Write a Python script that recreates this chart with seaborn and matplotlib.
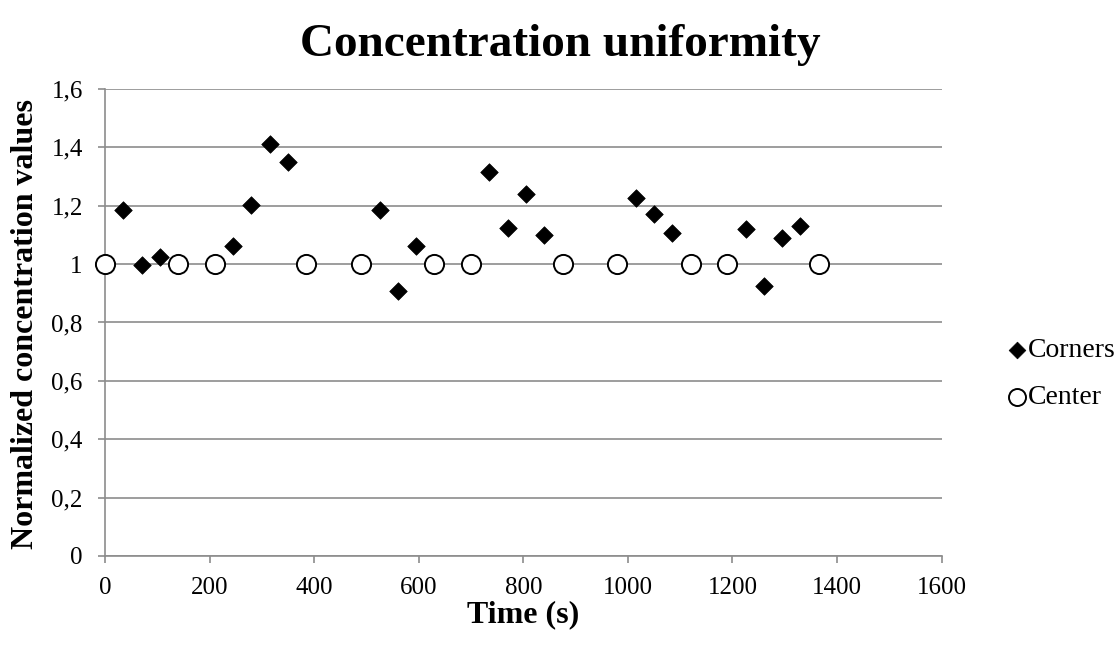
import numpy as np
import pandas as pd
import matplotlib
matplotlib.use("Agg")
import matplotlib.pyplot as plt
from matplotlib.ticker import FuncFormatter, MultipleLocator
import seaborn as sns

corners_time = [35, 70, 105, 245, 280, 315, 350, 525, 560, 595, 735, 770, 805, 840,
                1015, 1050, 1085, 1225, 1260, 1295, 1330]
corners_value = [1.184, 0.997, 1.025, 1.062, 1.202, 1.411, 1.350, 1.187, 0.909, 1.062,
                 1.315, 1.124, 1.240, 1.098, 1.225, 1.171, 1.108, 1.119, 0.926, 1.091, 1.130]
center_time = [0, 140, 210, 385, 490, 630, 700, 875, 980, 1120, 1190, 1365]
center_value = [1.0] * len(center_time)

sns.set_theme(style="white")
plt.rcParams['font.family'] = ['Liberation Serif', 'DejaVu Serif']
plt.rcParams['text.color'] = 'black'
plt.rcParams['axes.labelcolor'] = 'black'

fig = plt.figure(figsize=(11.2, 6.48), dpi=100)
ax = fig.add_axes([0.09375, 0.142, 0.7470, 0.7207])

df_corners = pd.DataFrame({"Time": corners_time, "Value": corners_value})
df_center = pd.DataFrame({"Time": center_time, "Value": center_value})

sns.scatterplot(data=df_corners, x="Time", y="Value", ax=ax, marker="D", s=80,
                color="black", edgecolor="black", linewidth=0.5, label="Corners", zorder=3)
sns.scatterplot(data=df_center, x="Time", y="Value", ax=ax, marker="o", s=190,
                facecolor="white", edgecolor="black", linewidth=1.4, label="Center", zorder=3,
                clip_on=False)

ax.set_xlim(0, 1600)
ax.set_ylim(0, 1.6)
ax.xaxis.set_major_locator(MultipleLocator(200))
ax.yaxis.set_major_locator(MultipleLocator(0.2))

def yfmt(v, pos):
    s = f"{v:.1f}".rstrip("0").rstrip(".")
    return s.replace(".", ",")
ax.yaxis.set_major_formatter(FuncFormatter(yfmt))

ax.grid(axis="y", color="#8c8c8c", linewidth=1.2)
ax.grid(axis="x", visible=False)
ax.set_axisbelow(True)
for side in ["top", "right"]:
    ax.spines[side].set_visible(False)
for side in ["left", "bottom"]:
    ax.spines[side].set_color("#8c8c8c")
    ax.spines[side].set_linewidth(1.2)

ax.tick_params(axis="both", which="major", labelsize=18, direction="out",
               length=5, width=1.2, color="#8c8c8c", labelcolor="black",
               bottom=True, left=True)
ax.tick_params(axis="y", pad=11)
ax.tick_params(axis="x", pad=10)

ax.set_xlabel("Time (s)", fontsize=23, fontweight="bold")
ax.set_ylabel("Normalized concentration values", fontsize=23, fontweight="bold")
ax.xaxis.label.set_va("center")
ax.yaxis.label.set_va("center")
ax.xaxis.set_label_coords(0.5, -0.125)
ax.yaxis.set_label_coords(-0.0956, 0.497)

fig.text(0.5, 0.93, "Concentration uniformity", fontsize=34, fontweight="bold",
         ha="center", va="center", color="black")

leg = ax.legend(loc="center left", bbox_to_anchor=(1.0765, 0.39), frameon=False,
                fontsize=20, handletextpad=0.0, handlelength=0.8, labelspacing=0.78,
                markerscale=0.95, borderaxespad=0.0, borderpad=0.0)
leg.legend_handles[1].set_sizes([150])

fig.savefig("out.png", dpi=100)
